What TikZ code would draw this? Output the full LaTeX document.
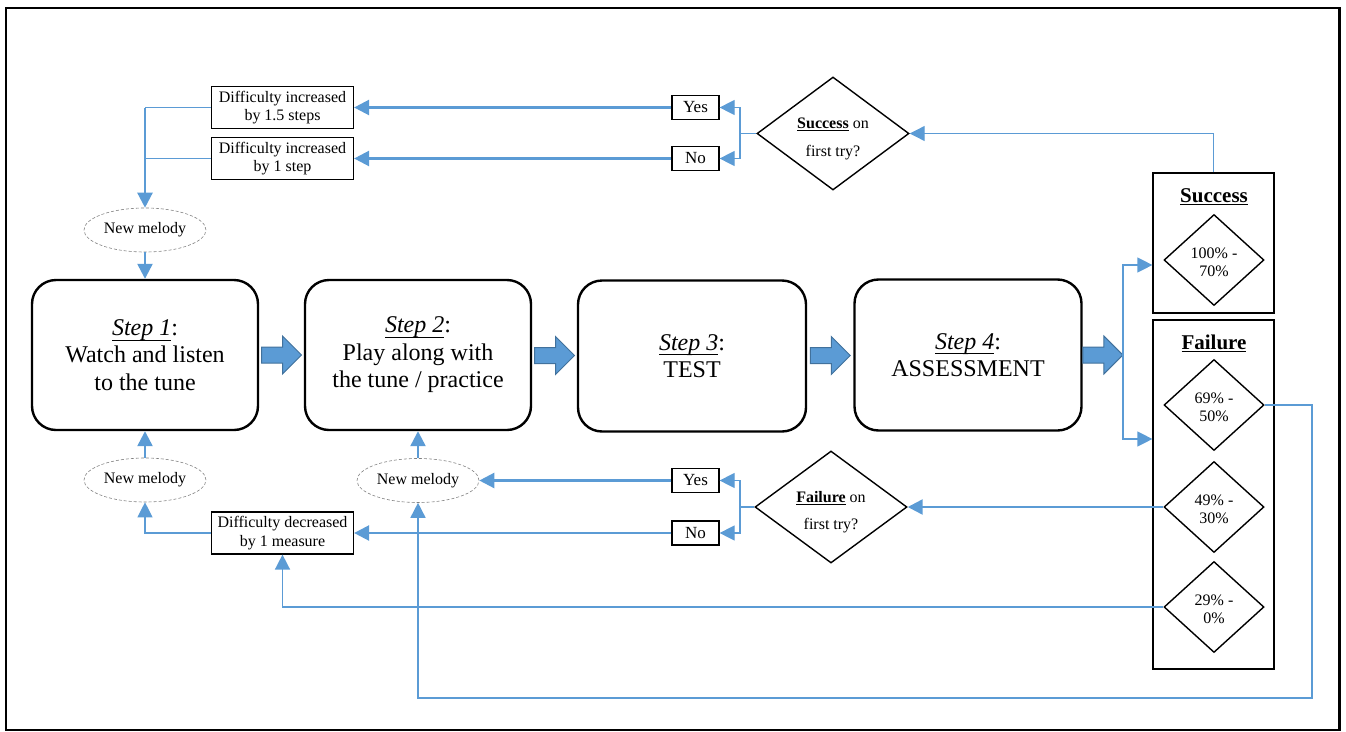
\documentclass[tikz,border=0pt]{standalone}
\usepackage{fontspec}
\setmainfont{Liberation Serif}
\usetikzlibrary{shapes.geometric,arrows.meta,calc}
\definecolor{lblue}{RGB}{91,155,213}
\definecolor{dblue}{RGB}{65,113,156}
\newcommand{\lowerby}[1]{\rule{0pt}{#1}}
\newcommand{\stepul}[1]{\underline{\raisebox{0pt}[\height][3pt]{#1}}}
\begin{document}
\begin{tikzpicture}[x=1pt,y=-1pt,
  stepbox/.style={draw,line width=2.4pt,rounded corners=24pt,minimum width=226pt,minimum height=150pt,inner sep=0pt,align=center,font=\fontsize{24}{27.5}\selectfont},
  smallbox/.style={draw,line width=1.2pt,minimum width=142pt,minimum height=42pt,inner sep=0pt,align=center,font=\fontsize{16}{18.5}\selectfont},
  yn/.style={draw,line width=1.2pt,minimum width=47pt,minimum height=24pt,inner sep=0pt,font=\fontsize{17}{20}\selectfont},
  melody/.style={ellipse,draw=gray,densely dashed,line width=0.6pt,minimum width=122pt,minimum height=44pt,inner sep=0pt,font=\fontsize{16}{18}\selectfont},
  decision/.style={diamond,draw,line width=1.4pt,minimum width=152pt,minimum height=113pt,inner sep=0pt,aspect=1.35,align=center,font=\fontsize{16}{28}\selectfont},
  pct/.style={diamond,draw,line width=1.4pt,minimum width=100pt,minimum height=91pt,inner sep=0pt,aspect=1.1,align=center,font=\fontsize{16}{18}\selectfont},
  groupbox/.style={draw,line width=1.2pt,minimum width=121pt,inner sep=0pt},
  grouptitle/.style={inner sep=0pt,font=\fontsize{21}{24}\selectfont\bfseries},
  tk/.style={draw=lblue,line width=2.4pt,-{Triangle[length=15pt,width=15pt]}},
  tn/.style={draw=lblue,line width=1.2pt},
  tna/.style={tn,-{Triangle[length=15pt,width=15pt]}},
  tm/.style={draw=lblue,line width=1.6pt,-{Triangle[length=15pt,width=15pt]}},
  barrow/.pic={\draw[fill=lblue,draw=dblue,line width=1pt] (-20,-8) -- (1,-8) -- (1,-19) -- (20,0) -- (1,19) -- (1,8) -- (-20,8) -- cycle;}
]
\useasboundingbox (0,0) rectangle (1346,731);
\draw[line width=2.2pt] (6,8) rectangle (1339.5,730);

% main steps
\node[stepbox] (s1) at (145,355) {\stepul{\textit{Step 1}}:\\Watch and listen\\to the tune};
\node[stepbox] (s2) at (418,355) {\stepul{\textit{Step 2}}:\\Play along with\\the tune / practice};
\node[stepbox,minimum width=228pt,minimum height=151pt] (s3) at (692,356) {\stepul{\textit{Step 3}}:\\TEST};
\node[stepbox,minimum width=227pt,minimum height=151pt] (s4) at (968,355) {\stepul{\textit{Step 4}}:\\ASSESSMENT};
\coordinate (bm) at (1123,355);
\pic at ($(s1.east)!0.5!(s2.west)$) {barrow};
\pic at ($(s2.east)!0.5!(s3.west)$) {barrow};
\pic at ($(s3.east)!0.5!(s4.west)$) {barrow};
\pic at ($(s4.east)!0.5!(bm)$) {barrow};

% right side groups
\node[groupbox,minimum height=140pt] (sbox) at (1213.5,243) {};
\node[grouptitle] (stitle) at (1214,197) {\underline{Success}};
\node[pct] (d0) at (1214,260) {\lowerby{15pt}100\% -\\70\%};
\node[groupbox,minimum height=349pt] (fbox) at (1213.5,494.5) {};
\node[grouptitle] (ftitle) at (1214,343) {\underline{Failure}};
\node[pct] (d1) at (1214,405) {\lowerby{15pt}69\% -\\50\%};
\node[pct] (d2) at (1214,507) {\lowerby{15pt}49\% -\\30\%};
\node[pct] (d3) at (1214,607) {\lowerby{15pt}29\% -\\0\%};

\coordinate (bt) at (1123,265);
\coordinate (bb) at (1123,439);
\draw[tna] (bm) -- (bt) -- (bt -| sbox.west);
\draw[tna] (bm) -- (bb) -- (bb -| fbox.west);

% top loop
\node[decision] (sdec) at (833,133.5) {\lowerby{22pt}\underline{\textbf{Success}} on\\first try?};
\node[yn] (syes) at (695.5,107.5) {Yes};
\node[yn] (sno) at (695.5,158.5) {No};
\node[smallbox] (inc15) at (282.5,107.5) {Difficulty increased\\by 1.5 steps};
\node[smallbox] (inc1) at (282.5,158.5) {Difficulty increased\\by 1 step};
\node[melody] (nm1) at (145,230) {New melody};
\draw[tna] (sbox.north) |- (sdec.east);
\coordinate (sb) at (740,133.5);
\draw[tn] (sdec.west) -- (sb);
\draw[tna] (sb) |- (syes.east);
\draw[tna] (sb) |- (sno.east);
\draw[tk] (syes.west) -- (inc15.east);
\draw[tk] (sno.west) -- (inc1.east);
\coordinate (tl) at (145,107.5);
\coordinate (tl2) at (145,158.5);
\draw[tn] (inc15.west) -- (tl);
\draw[tn] (inc1.west) -- (tl2);
\draw[tk] (tl) -- (nm1.north);
\draw[tk] (nm1.south) -- (s1.north);

% bottom loop
\node[decision,minimum width=152pt,minimum height=112pt,font=\fontsize{16}{27}\selectfont] (fdec) at (831,507) {\lowerby{22pt}\underline{\textbf{Failure}} on\\first try?};
\node[yn] (fyes) at (695.5,480.5) {Yes};
\node[yn] (fno) at (695.5,533) {No};
\node[smallbox,minimum height=42pt] (dec) at (282.5,533) {Difficulty decreased\\by 1 measure};
\node[melody] (nm2) at (145,480) {New melody};
\node[melody] (nm3) at (418,480.5) {New melody};
\draw[tk] (d2.west) -- (fdec.east);
\coordinate (fb) at (740,507);
\draw[tn] (fdec.west) -- (fb);
\draw[tna] (fb) |- (fyes.east);
\draw[tna] (fb) |- (fno.east);
\draw[tk] (fyes.west) -- (nm3.east);
\draw[tk] (fno.west) -- (dec.east);
\draw[tna] (dec.west) -| (nm2.south);
\draw[tk] (nm2.north) -- (s1.south);
\draw[tk] (nm3.north) -- (s2.south);
\draw[tm] (d3.west) -| (dec.south);
\coordinate (lr) at (1312,698);
\draw[tm] (d1.east) -| (lr) -| (nm3.south);
\end{tikzpicture}
\end{document}
